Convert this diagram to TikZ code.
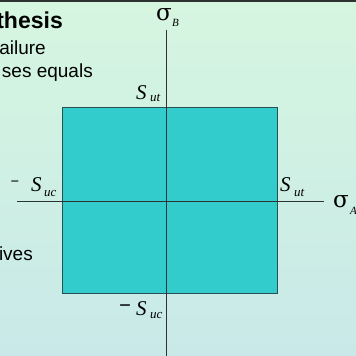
\documentclass[tikz,border=0pt]{standalone}
\usepackage{fontspec}
\setmainfont{Liberation Sans}
\newfontfamily\timesf{Liberation Serif}
\newfontfamily\sigf{DejaVu Serif}
\definecolor{bgtop}{RGB}{214,246,224}
\definecolor{bgbot}{RGB}{200,233,232}
\definecolor{boxfill}{RGB}{51,204,204}
\definecolor{boxline}{RGB}{40,80,80}
\definecolor{axisc}{RGB}{45,50,50}
\begin{document}
\begin{tikzpicture}[x=1pt,y=-1pt,
  txt/.style={inner sep=0pt, anchor=base east, font=\fontsize{19}{19}\selectfont},
  ttl/.style={inner sep=0pt, anchor=base east, font=\bfseries\fontsize{23}{23}\selectfont},
  mlab/.style={inner sep=0pt, anchor=base west, font=\timesf\itshape\fontsize{21}{21}\selectfont},
  msub/.style={inner sep=0pt, anchor=base west, font=\timesf\itshape\fontsize{13}{13}\selectfont},
  mminus/.style={inner sep=0pt, anchor=center, font=\timesf\bfseries\fontsize{21}{21}\selectfont},
  sig/.style={inner sep=0pt, anchor=base west, font=\sigf\fontsize{23}{23}\selectfont},
  sigsub/.style={inner sep=0pt, anchor=base west, font=\timesf\itshape\fontsize{11}{11}\selectfont},
  axisline/.style={draw=axisc, line width=1pt},
  regionbox/.style={draw=boxline, line width=1pt, fill=boxfill, inner sep=0pt}]
\useasboundingbox (0,0) rectangle (356,356);
\clip (0,0) rectangle (356,356);
\shade[top color=bgtop, bottom color=bgbot] (0,0) rectangle (356,356);
\draw[axisc, line width=1.6pt] (0,0.8) -- (356,0.8);
% texts
\node[ttl] (t1) at (63,28) {thesis};
\node[txt] (t2) at (46,54) {ailure};
\node[txt] (t3) at (93,77) {ses equals};
\node[txt] (t4) at (33,260) {ives};
% region
\node[regionbox, minimum width=215pt, minimum height=186pt] (box) at (169.5,200) {};
% axes
\coordinate (yb) at (166.5,357);
\coordinate (yt) at (166.5,30);
\coordinate (xl) at (17,201);
\coordinate (xr) at (324,201);
\draw[axisline] (yb) -- (yt);
\draw[axisline] (xl) -- (xr);
% axis labels
\node[sig] (sb) at (156,20.5) {σ};
\node[sigsub] (sbs) at (172,27) {B};
\node[sig] (sa) at (333,207) {σ};
\node[sigsub] (sas) at (350,214) {A};
% S labels
\node[mlab] (s1) at (136,99) {S};
\node[msub] (s1s) at (150,101.5) {ut};
\node[mlab] (s2) at (280,191) {S};
\node[msub] (s2s) at (294,196) {ut};
\node[mminus, font=\timesf\bfseries\fontsize{15}{15}\selectfont] (m3) at (15,184) {−};
\node[mlab] (s3) at (31,191) {S};
\node[msub] (s3s) at (44,196) {uc};
\node[mminus] (m4) at (125,309) {−};
\node[mlab] (s4) at (136,315) {S};
\node[msub] (s4s) at (150,318) {uc};
\end{tikzpicture}
\end{document}
